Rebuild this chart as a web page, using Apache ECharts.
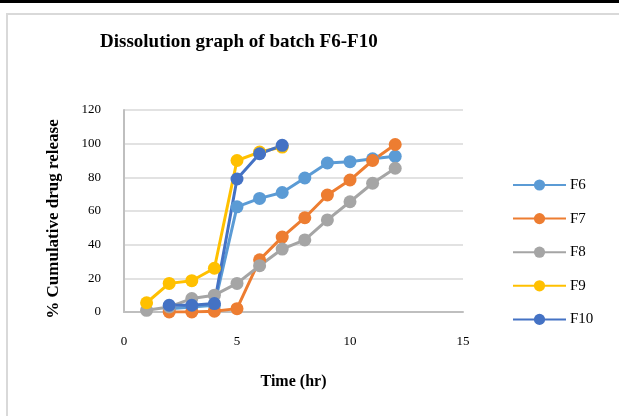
<!DOCTYPE html>
<html>
<head>
<meta charset="utf-8">
<script src="https://cdn.jsdelivr.net/npm/echarts@6/dist/echarts.min.js"></script>
<style>
  html, body { margin: 0; padding: 0; background: #fff; }
  #container { width: 619px; height: 416px; }
</style>
</head>
<body>
<div id="container"></div>
<script>
// 数据
var seriesNames = ['F6', 'F7', 'F8', 'F9', 'F10'];
var f6Time = [2, 3, 4, 5, 6, 7, 8, 9, 10, 11, 12];
var f6Value = [2, 3, 4, 62.5, 67.5, 71, 79.6, 88.5, 89.3, 91, 92.5];
var f7Time = [2, 3, 4, 5, 6, 7, 8, 9, 10, 11, 12];
var f7Value = [0, 0, 0.5, 2, 31, 44.5, 56, 69.5, 78.4, 90, 99.5];
var f8Time = [1, 2, 3, 4, 5, 6, 7, 8, 9, 10, 11, 12];
var f8Value = [1, 3, 8, 10, 17, 27.5, 37.4, 42.8, 54.7, 65.5, 76.5, 85.4];
var f9Time = [1, 2, 3, 4, 5, 6, 7];
var f9Value = [5.5, 17, 18.6, 26, 90, 95, 98];
var f10Time = [2, 3, 4, 5, 6, 7];
var f10Value = [4, 4, 5, 79, 94, 99];
var colors = ['#5B9BD5', '#ED7D31', '#A5A5A5', '#FFC000', '#4472C4'];

function pairs(xs, ys) {
    var out = [];
    for (var i = 0; i < xs.length; i++) out.push([xs[i], ys[i]]);
    return out;
}

var allData = [
    pairs(f6Time, f6Value),
    pairs(f7Time, f7Value),
    pairs(f8Time, f8Value),
    pairs(f9Time, f9Value),
    pairs(f10Time, f10Value)
];

var myChart = echarts.init(document.getElementById('container'));
var serif = '"Liberation Serif", "DejaVu Serif", serif';

var series = [];
for (var i = 0; i < seriesNames.length; i++) {
    series.push({
        name: seriesNames[i],
        type: 'line',
        symbol: 'circle',
        symbolSize: 13,
        data: allData[i],
        lineStyle: { width: 3, color: colors[i] },
        itemStyle: { color: colors[i] },
        emphasis: { disabled: true },
        animation: false
    });
}

myChart.setOption({
    color: colors,
    graphic: [
        { type: 'rect', shape: { x: 0, y: 0, width: 619, height: 3 }, style: { fill: '#000' } },
        { type: 'rect', shape: { x: 7, y: 14, width: 700, height: 500 }, style: { fill: 'none', stroke: '#d9d9d9', lineWidth: 2 } },
        // y轴标题
        {
            type: 'text',
            x: 54,
            y: 219,
            rotation: Math.PI / 2,
            style: {
                text: '% Cumulative drug release',
                fontFamily: serif,
                fontSize: 17,
                fontWeight: 'bold',
                fill: '#000',
                align: 'center',
                verticalAlign: 'middle'
            }
        }
    ],
    title: {
        text: 'Dissolution graph of batch F6-F10',
        left: 100,
        top: 33,
        padding: 0,
        textStyle: { fontFamily: serif, fontSize: 19, fontWeight: 'bold', color: '#000' }
    },
    legend: {
        orient: 'vertical',
        left: 512,
        top: 177.5,
        padding: 0,
        itemWidth: 53,
        itemHeight: 14,
        itemGap: 18.6,
        data: seriesNames,
        textStyle: { fontFamily: serif, fontSize: 15, color: '#000', padding: [0, 0, 0, -1] }
    },
    grid: { left: 124, right: 156, top: 110, bottom: 104 },
    xAxis: {
        type: 'value',
        min: 0,
        max: 15,
        interval: 5,
        name: 'Time (hr)',
        nameLocation: 'middle',
        nameGap: 62,
        nameTextStyle: { fontFamily: serif, fontSize: 16, fontWeight: 'bold', color: '#000' },
        axisLine: { lineStyle: { color: '#bfbfbf', width: 2 } },
        axisTick: { show: false },
        splitLine: { show: false },
        axisLabel: { margin: 23, fontFamily: serif, fontSize: 13, color: '#000' }
    },
    yAxis: {
        type: 'value',
        min: 0,
        max: 120,
        interval: 20,
        axisLine: { show: true, lineStyle: { color: '#bfbfbf', width: 2 } },
        axisTick: { show: false },
        splitLine: { lineStyle: { color: '#d9d9d9', width: 1.5 } },
        axisLabel: { margin: 23, fontFamily: serif, fontSize: 13, color: '#000' }
    },
    series: series
});
</script>
</body>
</html>
